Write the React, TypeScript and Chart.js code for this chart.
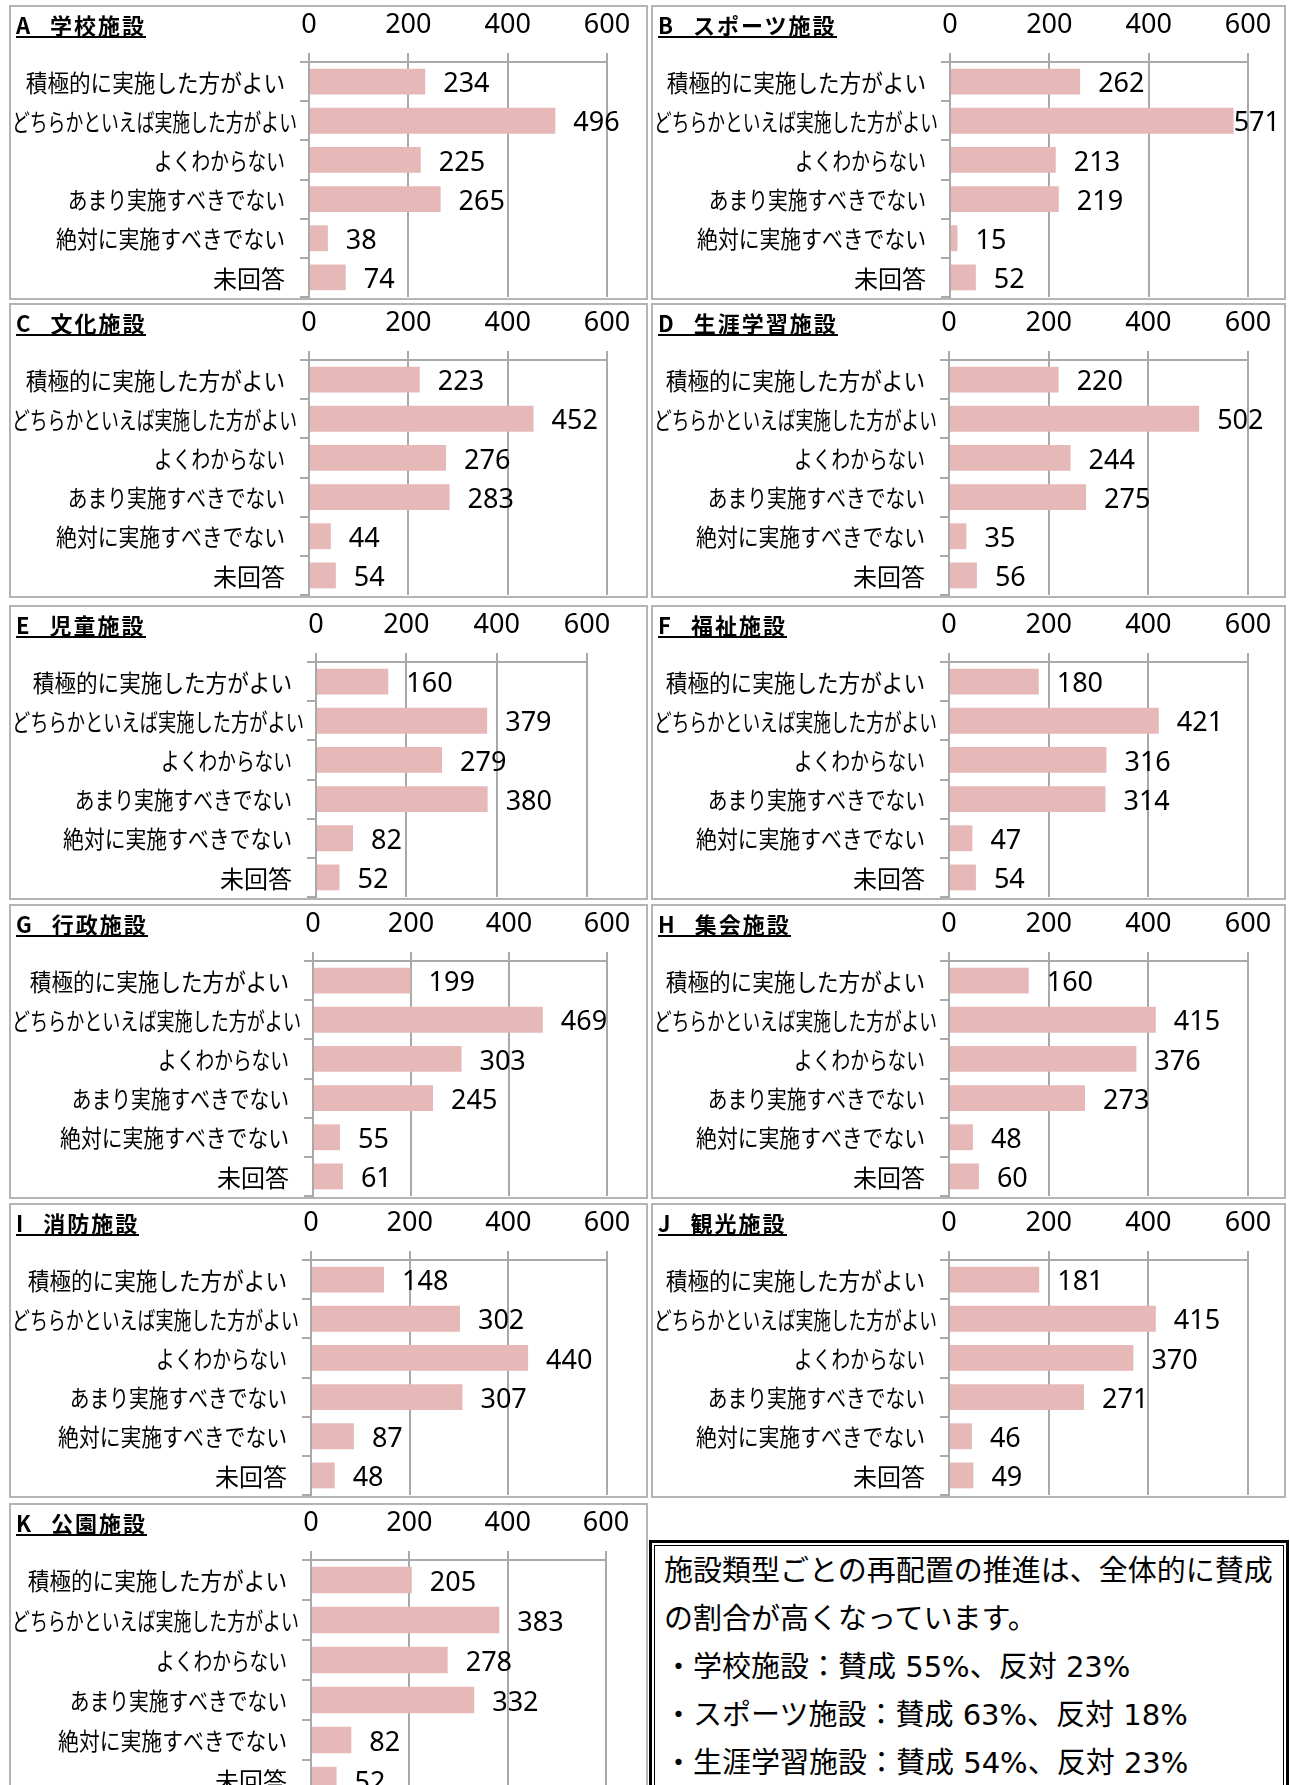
import React, { useEffect, useRef } from "react";
import { Chart, registerables } from "chart.js";

Chart.register(...registerables);

// ---------- data ----------
const CATEGORIES = [
  "積極的に実施した方がよい",
  "どちらかといえば実施した方がよい",
  "よくわからない",
  "あまり実施すべきでない",
  "絶対に実施すべきでない",
  "未回答",
];
const X_TICKS = [0, 200, 400, 600];

const TITLE_LETTERS = ["A", "B", "C", "D", "E", "F", "G", "H", "I", "J", "K"];
const TITLE_NAMES = [
  "学校施設",
  "スポーツ施設",
  "文化施設",
  "生涯学習施設",
  "児童施設",
  "福祉施設",
  "行政施設",
  "集会施設",
  "消防施設",
  "観光施設",
  "公園施設",
];

const VALUES_A = [234, 496, 225, 265, 38, 74];
const VALUES_B = [262, 571, 213, 219, 15, 52];
const VALUES_C = [223, 452, 276, 283, 44, 54];
const VALUES_D = [220, 502, 244, 275, 35, 56];
const VALUES_E = [160, 379, 279, 380, 82, 52];
const VALUES_F = [180, 421, 316, 314, 47, 54];
const VALUES_G = [199, 469, 303, 245, 55, 61];
const VALUES_H = [160, 415, 376, 273, 48, 60];
const VALUES_I = [148, 302, 440, 307, 87, 48];
const VALUES_J = [181, 415, 370, 271, 46, 49];
const VALUES_K = [205, 383, 278, 332, 82, 52];

const NOTE_LINES = [
  "施設類型ごとの再配置の推進は、全体的に賛成",
  "の割合が高くなっています。",
  "・学校施設：賛成 55%、反対 23%",
  "・スポーツ施設：賛成 63%、反対 18%",
  "・生涯学習施設：賛成 54%、反対 23%",
];

// ---------- layout / style ----------
const ALL_VALUES = [
  VALUES_A, VALUES_B, VALUES_C, VALUES_D, VALUES_E, VALUES_F,
  VALUES_G, VALUES_H, VALUES_I, VALUES_J, VALUES_K,
];
const ROW_TOPS = [5, 303, 605, 904, 1203, 1503];
const COL_LEFT = [9, 651];
const COL_WIDTH = [639, 635];
const PANEL_H = 295;
// zero line / 600 line (page x) per panel
const AXIS_X: [number, number][] = [
  [309, 607], [950, 1248],
  [309, 607], [949, 1248],
  [316, 587], [949, 1248],
  [313, 607], [949, 1248],
  [311, 607], [949, 1248],
  [311, 606],
];
const BAR_COLOR = "#E6B8B7";
const GRID = "#a9a9a9";
const NUM_FONT = '"Noto Sans", "Open Sans", sans-serif';
const JP_FONT = '"Noto Sans CJK JP", "Noto Sans CJK SC", sans-serif';
const AXIS_TOP = 55;

function estLabelWidth(s: string): number {
  let w = 0;
  for (const ch of s) {
    const c = ch.charCodeAt(0);
    if (c >= 0x4e00 && c <= 0x9fff) w += 24.5;
    else w += 18.7;
  }
  return w;
}

const labelPlugin = {
  id: "customLabels",
  afterDraw(chart: any) {
    const ctx = chart.ctx as CanvasRenderingContext2D;
    const ys = chart.scales.y;
    const area = chart.chartArea;
    ctx.save();
    ctx.fillStyle = "#000";
    ctx.textBaseline = "middle";
    ctx.textAlign = "left";
    ctx.font = `24px ${JP_FONT}`;
    (chart.data.labels as string[]).forEach((label, i) => {
      const y = ys.getPixelForTick(i);
      const natural = ctx.measureText(label).width;
      let w = Math.min(estLabelWidth(label), area.left - 13);
      w = Math.min(w, natural);
      let x = area.left - 24 - w;
      if (x < 1) x = 1;
      ctx.fillText(label, x, y + 1, w);
    });
    ctx.font = `27px ${NUM_FONT}`;
    const meta = chart.getDatasetMeta(0);
    const data = chart.data.datasets[0].data as number[];
    meta.data.forEach((bar: any, i: number) => {
      const t = String(data[i]);
      const tw = ctx.measureText(t).width;
      let x = bar.x + 18;
      if (x + tw > chart.width - 4) x = chart.width - 4 - tw;
      ctx.fillText(t, x, bar.y + 3);
    });
    ctx.restore();
  },
};

type PanelProps = {
  idx: number;
  left: number;
  top: number;
  width: number;
  height: number;
};

function Panel({ idx, left, top, width, height }: PanelProps) {
  const ref = useRef<HTMLCanvasElement>(null);
  const cw = width - 4;
  const ch = height - 4;
  const zeroC = AXIS_X[idx][0] - left - 2;
  const maxC = AXIS_X[idx][1] - left - 2;
  useEffect(() => {
    const chart = new Chart(ref.current!, {
      type: "bar",
      data: {
        labels: CATEGORIES,
        datasets: [
          {
            data: ALL_VALUES[idx],
            backgroundColor: BAR_COLOR,
            borderWidth: 0,
            barPercentage: 0.66,
            categoryPercentage: 1,
          },
        ],
      },
      options: {
        animation: false,
        responsive: false,
        devicePixelRatio: 1,
        indexAxis: "y",
        layout: { padding: { left: 0, top: 0, right: cw - maxC, bottom: 1 } },
        plugins: {
          legend: { display: false },
          tooltip: { enabled: false },
          title: { display: false },
        },
        scales: {
          x: {
            position: "top",
            min: 0,
            max: 600,
            afterBuildTicks: (s: any) => {
              s.ticks = X_TICKS.map((v) => ({ value: v }));
            },
            ticks: {
              font: { family: NUM_FONT, size: 27 },
              color: "#000",
              padding: 11,
              maxRotation: 0,
              autoSkip: false,
            },
            grid: { color: GRID, lineWidth: 2, tickLength: 9, drawTicks: true },
            border: { display: true, color: GRID, width: 2 },
            afterFit: (s: any) => {
              s.height = AXIS_TOP;
            },
          },
          y: {
            ticks: { display: false },
            grid: {
              drawOnChartArea: false,
              drawTicks: true,
              tickLength: 9,
              color: GRID,
              lineWidth: 2,
              offset: true,
            },
            border: { display: true, color: GRID, width: 2 },
            afterFit: (s: any) => {
              s.width = zeroC;
            },
          },
        },
      } as any,
      plugins: [labelPlugin],
    });
    return () => chart.destroy();
  }, []);
  return (
    <div
      style={{
        position: "absolute",
        left,
        top,
        width,
        height,
        boxSizing: "border-box",
        border: "2px solid #b4b4b4",
        background: "#fff",
        overflow: "hidden",
      }}
    >
      <canvas
        ref={ref}
        width={cw}
        height={ch}
        style={{ position: "absolute", left: 0, top: 0, width: cw, height: ch }}
      />
      <div
        style={{
          position: "absolute",
          left: 5,
          top: 6,
          whiteSpace: "nowrap",
        }}
      >
        <span
          style={{
            display: "inline-block",
            fontFamily: JP_FONT,
            fontWeight: 700,
            fontSize: 22,
            lineHeight: "23px",
            letterSpacing: 2,
            color: "#000",
            borderBottom: "2px solid #000",
          }}
        >
          <span>{TITLE_LETTERS[idx]}</span>
          <span style={{ marginLeft: 18 }}>{TITLE_NAMES[idx]}</span>
        </span>
      </div>
    </div>
  );
}

export default function App() {
  const panels = TITLE_LETTERS.map((_, i) => {
    const row = Math.floor(i / 2);
    const col = i % 2;
    return (
      <Panel
        key={i}
        idx={i}
        left={COL_LEFT[col]}
        top={ROW_TOPS[row]}
        width={COL_WIDTH[col]}
        height={row === 5 ? 300 : PANEL_H}
      />
    );
  });
  return (
    <div
      style={{
        position: "absolute",
        left: 0,
        top: 0,
        width: 1290,
        height: 1785,
        overflow: "hidden",
        background: "#fff",
      }}
    >
      {panels}
      <div
        style={{
          position: "absolute",
          left: 649,
          top: 1540,
          width: 640,
          height: 300,
          boxSizing: "border-box",
          border: "3px solid #000",
          padding: 2,
          background: "#fff",
        }}
      >
        <div
          style={{
            boxSizing: "border-box",
            width: "100%",
            height: "100%",
            border: "1.5px solid #000",
            padding: "1px 0 0 9px",
            fontFamily: '"DejaVu Sans", "Noto Sans CJK JP", sans-serif',
            fontSize: 29,
            lineHeight: "48px",
            color: "#000",
            whiteSpace: "nowrap",
          }}
        >
          {NOTE_LINES.map((l) => (
            <div key={l}>{l}</div>
          ))}
        </div>
      </div>
    </div>
  );
}
